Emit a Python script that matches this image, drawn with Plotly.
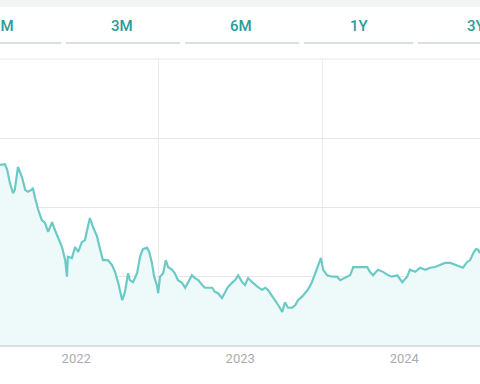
import plotly.graph_objects as go

dates = [
    "2022-01-14", "2022-01-21", "2022-01-25", "2022-01-30", "2022-02-05", "2022-02-12", "2022-02-16",
    "2022-02-23", "2022-03-04", "2022-03-11", "2022-03-17", "2022-03-26", "2022-03-28", "2022-04-02",
    "2022-04-09", "2022-04-17", "2022-04-24", "2022-05-01", "2022-05-10", "2022-05-16", "2022-05-23",
    "2022-06-01", "2022-06-08", "2022-06-12", "2022-06-14", "2022-06-23", "2022-06-30", "2022-07-07",
    "2022-07-15", "2022-07-22", "2022-07-27", "2022-08-02", "2022-08-09", "2022-08-18", "2022-08-25",
    "2022-08-31", "2022-09-11", "2022-09-20", "2022-09-27", "2022-10-04", "2022-10-13", "2022-10-19",
    "2022-10-26", "2022-10-30", "2022-11-06", "2022-11-15", "2022-11-22", "2022-11-28", "2022-12-07",
    "2022-12-12", "2022-12-18", "2022-12-23", "2022-12-29", "2023-01-01", "2023-01-05", "2023-01-12",
    "2023-01-18", "2023-01-23", "2023-02-01", "2023-02-07", "2023-02-14", "2023-02-23", "2023-03-02",
    "2023-03-08", "2023-03-17", "2023-03-24", "2023-03-31", "2023-04-09", "2023-04-15", "2023-04-22",
    "2023-05-01", "2023-05-07", "2023-05-14", "2023-05-23", "2023-05-30", "2023-06-05", "2023-06-14",
    "2023-06-21", "2023-06-28", "2023-07-07", "2023-07-13", "2023-07-20", "2023-07-29", "2023-08-05",
    "2023-08-11", "2023-08-20", "2023-08-27", "2023-09-02", "2023-09-11", "2023-09-18", "2023-09-25",
    "2023-10-04", "2023-10-10", "2023-10-17", "2023-10-26", "2023-11-02", "2023-11-08", "2023-11-17",
    "2023-11-24", "2023-11-30", "2023-12-09", "2023-12-16", "2023-12-23", "2023-12-29", "2024-01-03",
    "2024-01-12", "2024-01-23", "2024-02-03", "2024-02-10", "2024-02-21", "2024-03-03", "2024-03-10",
    "2024-03-21", "2024-04-01", "2024-04-10", "2024-04-16", "2024-04-23", "2024-05-04", "2024-05-15",
    "2024-05-27", "2024-06-04", "2024-06-16", "2024-06-27", "2024-07-08", "2024-07-14", "2024-07-26",
    "2024-08-06", "2024-08-17", "2024-08-28", "2024-09-08", "2024-09-19", "2024-09-30", "2024-10-12",
    "2024-10-23", "2024-11-03", "2024-11-09", "2024-11-18", "2024-11-25", "2024-12-02", "2024-12-08",
    "2024-12-13", "2024-12-17",
]

values = [
    26.1, 26.1, 26.2, 25.4, 23.5, 22.0, 22.5,
    25.8, 24.3, 22.5, 22.2, 22.5, 22.8, 21.3,
    19.6, 18.1, 17.7, 16.4, 17.8, 16.7, 15.7,
    14.2, 12.3, 9.9, 12.8, 12.6, 14.2, 13.5,
    14.9, 15.2, 16.7, 18.4, 17.1, 15.7, 13.8,
    12.3, 12.3, 11.6, 10.6, 9.0, 6.5, 7.7,
    10.4, 9.4, 9.1, 10.4, 12.9, 13.9, 14.1,
    13.5, 11.9, 9.9, 8.7, 7.5, 9.9, 10.4,
    12.3, 11.3, 10.9, 10.4, 9.4, 9.0, 8.3,
    9.1, 10.1, 9.7, 9.4, 8.7, 8.3, 8.3,
    8.3, 7.7, 7.5, 6.8, 7.7, 8.4, 9.0,
    9.4, 10.1, 9.1, 8.7, 9.7, 9.1, 8.7,
    8.4, 8.0, 8.3, 8.0, 7.2, 6.5, 5.8,
    4.8, 6.2, 5.4, 5.4, 5.8, 6.5, 7.0,
    7.5, 8.0, 9.1, 10.4, 11.7, 12.6, 10.9,
    10.1, 9.9, 9.9, 9.4, 9.7, 10.1, 11.3,
    11.3, 11.2, 11.3, 10.6, 10.1, 10.9, 10.6,
    10.1, 9.9, 10.1, 9.1, 9.9, 10.9, 10.6,
    11.2, 10.9, 11.2, 11.3, 11.6, 11.9, 11.9,
    11.6, 11.3, 11.2, 12.0, 12.3, 13.3, 13.9,
    13.8, 13.3,
]

range_buttons = ["1M", "3M", "6M", "1Y", "3Y"]
y_grid = [10, 20, 30]

W, H = 480, 384
M_T, M_B = 59, 39
PLOT_H = H - M_T - M_B


def py(pix):
    """pixel row -> paper y"""
    return (H - M_B - pix) / PLOT_H


def pxx(pix):
    return pix / W


fig = go.Figure(
    go.Scatter(
        x=dates,
        y=values,
        mode="lines",
        line=dict(color="#6ccac6", width=2.2),
        fill="tozeroy",
        fillcolor="#eefafa",
        hoverinfo="skip",
    )
)

shapes = []
# top grey band
shapes.append(dict(type="rect", xref="paper", yref="paper", x0=0, x1=1, y0=py(7), y1=py(0),
                   fillcolor="#f3f4f4", line=dict(width=0), layer="above"))
# button underlines
segs = [(-60, 61), (66, 180), (185, 299), (304, 413), (418, 540)]
for a, b in segs:
    shapes.append(dict(type="rect", xref="paper", yref="paper", x0=pxx(a), x1=pxx(b),
                       y0=py(44), y1=py(42), fillcolor="#d6dfe3", line=dict(width=0)))
# top border line of plot
shapes.append(dict(type="line", xref="paper", yref="paper", x0=0, x1=1, y0=1, y1=1,
                   line=dict(color="#e8e8e8", width=1)))

annotations = []
centers = [3, 122, 241, 359, 476]
for lab, cx in zip(range_buttons, centers):
    annotations.append(dict(text=lab, xref="paper", yref="paper", x=pxx(cx), y=py(26),
                            xanchor="center", yanchor="middle", showarrow=False,
                            font=dict(family="Roboto", size=15, color="#2a9d99", weight=500)))

fig.update_layout(
    width=W, height=H,
    margin=dict(l=0, r=0, t=M_T, b=M_B, pad=0),
    paper_bgcolor="white", plot_bgcolor="white",
    showlegend=False,
    shapes=shapes,
    annotations=annotations,
    xaxis=dict(
        type="date",
        range=["2022-01-14", "2024-12-17"],
        tick0="2022-01-01", dtick="M12", tickformat="%Y",
        ticklabelmode="period",
        showgrid=True, gridcolor="#ebebeb", gridwidth=1,
        showline=True, linecolor="#d6dfe3", linewidth=2,
        ticks="",
        tickfont=dict(family="Roboto", size=13, color="#a9acb0"),
        zeroline=False,
        fixedrange=True,
    ),
    yaxis=dict(
        range=[0, (H - M_B - M_T) / 6.9],
        tickmode="array", tickvals=y_grid,
        showgrid=True, gridcolor="#e6e6e6", gridwidth=1,
        showticklabels=False, zeroline=False, ticks="",
        fixedrange=True,
    ),
)

fig.write_html(
    "out.html",
    config={"displayModeBar": False},
    post_script="document.body.style.margin='0';document.body.style.overflow='hidden';",
)
